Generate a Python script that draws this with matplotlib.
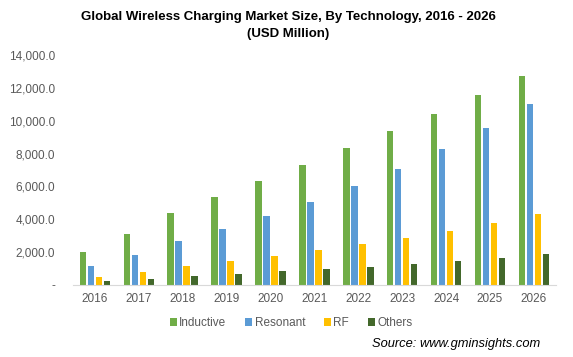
import numpy as np
import matplotlib
matplotlib.use("Agg")
import matplotlib.pyplot as plt
from matplotlib.ticker import FuncFormatter

years = ["2016", "2017", "2018", "2019", "2020", "2021", "2022", "2023", "2024", "2025", "2026"]
inductive = [2020, 3120, 4400, 5380, 6300, 7280, 8310, 9350, 10390, 11550, 12720]
resonant = [1160, 1830, 2690, 3420, 4220, 5080, 6050, 7090, 8250, 9540, 11000]
rf = [490, 800, 1160, 1470, 1770, 2140, 2510, 2870, 3300, 3790, 4340]
others = [265, 370, 550, 670, 880, 980, 1100, 1280, 1470, 1650, 1900]

series = [("Inductive", inductive, "#70AD47"),
          ("Resonant", resonant, "#5B9BD5"),
          ("RF", rf, "#FFC000"),
          ("Others", others, "#43682B")]

plt.rcParams['font.family'] = ['Liberation Sans', 'DejaVu Sans']

fig = plt.figure(figsize=(5.73, 3.57), dpi=100)
ax = fig.add_axes([0.1274, 0.2017, 0.8426, 0.6443])

x = np.arange(len(years))
step = 0.182
width = 0.15
for i, (name, vals, col) in enumerate(series):
    ax.bar(x + (i - 1.5) * step, vals, width, color=col, label=name)

ax.set_xlim(-0.5, len(years) - 0.5)
ax.set_ylim(0, 14000)
ax.set_yticks(np.arange(0, 14001, 2000))
ax.yaxis.set_major_formatter(FuncFormatter(lambda v, p: "-" if v == 0 else f"{v:,.1f}"))
ax.set_xticks(x)
ax.set_xticklabels(years)
ax.tick_params(axis='both', length=0, labelsize=8.5, labelcolor="#595959")
ax.tick_params(axis='y', pad=13)
ax.tick_params(axis='x', pad=6)
for s in ["top", "right", "left"]:
    ax.spines[s].set_visible(False)
ax.spines["bottom"].set_color("#D9D9D9")

fig.text(0.503, 0.952, "Global Wireless Charging Market Size, By Technology, 2016 - 2026",
         ha="center", va="center", fontsize=9.5, fontweight="bold")
fig.text(0.503, 0.905, "(USD Million)", ha="center", va="center", fontsize=9.5, fontweight="bold")

fig.legend(loc="center", bbox_to_anchor=(0.508, 0.095), ncol=4, frameon=False,
           fontsize=8.5, handlelength=0.6, handleheight=0.6, handletextpad=0.2,
           columnspacing=1.6, labelcolor="#595959")

fig.text(0.943, 0.036, "Source: www.gminsights.com", ha="right", va="center",
         fontsize=9.3, style="italic")

fig.savefig("out.png", dpi=100)
